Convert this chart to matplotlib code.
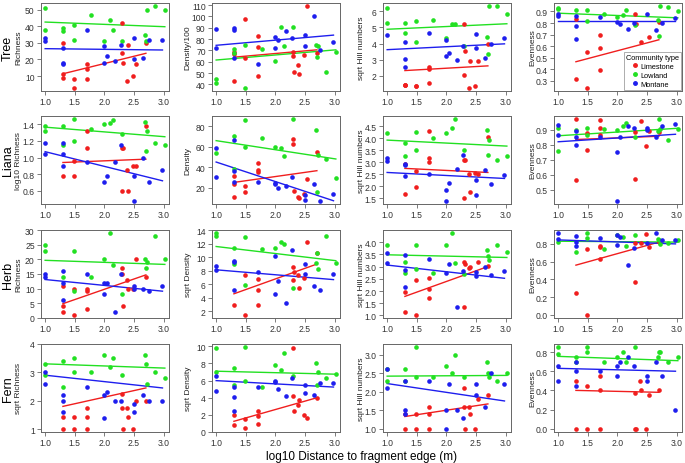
import matplotlib
matplotlib.use("Agg")
import matplotlib.pyplot as plt
import numpy as np
from matplotlib.lines import Line2D

nan = np.nan
plt.rcParams["font.family"] = ["Liberation Sans", "DejaVu Sans"]

# log10 distance to fragment edge for each site, by community type
x_limestone = [1.3, 1.3, 1.3, 1.48, 1.48, 1.7, 1.7, 1.7, 2.3, 2.3, 2.32, 2.38, 2.4, 2.48, 2.54, 2.7]
x_lowland = [1.0, 1.0, 1.3, 1.3, 1.48, 1.48, 1.78, 2.0, 2.1, 2.15, 2.3, 2.68, 2.7, 2.72, 2.85, 3.02]
x_montane = [1.0, 1.0, 1.3, 1.3, 1.3, 1.7, 2.0, 2.0, 2.04, 2.18, 2.28, 2.5, 2.5, 2.65, 2.76, 2.98]

taxa = ["Tree", "Liana", "Herb", "Fern"]
ylabels = [["Richness", "Density/100", "sqrt Hill numbers", "Evenness"],
           ["log10 Richness", "Density", "sqrt Hill numbers", "Evenness"],
           ["Richness", "sqrt Density", "sqrt Hill numbers", "Evenness"],
           ["sqrt Richness", "sqrt Density", "sqrt Hill numbers", "Evenness"]]
yticks = [[[10, 20, 30, 40, 50], [40, 50, 60, 70, 80, 90, 100, 110], [2, 3, 4, 5, 6], [0.3, 0.4, 0.5, 0.6, 0.7, 0.8, 0.9]],
          [[0.6, 0.8, 1.0, 1.2, 1.4], [20, 40, 60, 80], [1.5, 2.0, 2.5, 3.0, 3.5, 4.0, 4.5], [0.5, 0.6, 0.7, 0.8, 0.9]],
          [[0, 5, 10, 15, 20, 25, 30], [2, 4, 6, 8, 10, 12, 14], [1.0, 1.5, 2.0, 2.5, 3.0, 3.5, 4.0], [0.0, 0.2, 0.4, 0.6, 0.8]],
          [[1, 2, 3, 4], [0, 2, 4, 6, 8, 10], [1.0, 1.5, 2.0, 2.5, 3.0], [0.0, 0.2, 0.4, 0.6, 0.8]]]
xticks = [1.0, 1.5, 2.0, 2.5, 3.0]

# values per column: richness, density, hill numbers, evenness
tree_limestone = [[30, 11, 9, 8, 3, 17, 14, 8, 42, 24, 18, 7, 29, 10, 17, 30],
                  [69, 43, 67, 98, 63, 83, 73, 47, 69, 65, 51, 57, 49, 66, 109, 68],
                  [1.47, 1.45, 1.43, 1.37, 1.35, 2.55, 2.4, 1.55, 5.22, 2.08, 3.51, 1.27, 2.94, 1.35, 2.9, 3.96],
                  [0.835, 0.315, nan, 0.545, 0.24, 0.695, 0.585, 0.395, 0.88, nan, 0.79, nan, 0.635, nan, 0.675, 0.81]]
tree_lowland = [[51, 38, 39, 37, 41, 32, 47, 31, 44, 38, 31, 35, 31, 50, 52, 50],
                [45, 41, 71, 68, 75, 37, 71, 61, 91, 74, 91, 75, 64, 74, 51, 69],
                [6.2, 5.29, 5.29, 4.63, 5.37, 4.12, 5.47, 4.31, 5.22, 5.22, 3.84, 4.4, 3.35, 6.3, 6.3, 5.84],
                [0.93, 0.92, 0.91, nan, 0.91, 0.82, 0.88, 0.85, 0.87, 0.91, 0.78, 0.83, 0.69, 0.945, 0.94, 0.9]]
tree_montane = [[33, 31, 27, 18, 17, 38, 28, 18, 22, 19, 29, 33, 20, 21, 32, 32],
                [89, 72, 90, 88, 63, 58, 82, 72, 79, 87, 81, 84, 74, 100, 70, 77],
                [4.53, nan, 4.12, 3.04, 2.57, 4.67, 4.2, 3.24, 3.43, 3.0, 3.86, 4.61, 3.71, 3.1, 4.0, 4.31],
                [0.88, 0.865, 0.86, 0.77, 0.665, 0.85, 0.81, nan, 0.79, 0.75, 0.8, 0.875, nan, 0.74, 0.8, 0.84]]

liana_limestone = [[0.78, nan, nan, 0.96, 0.78, 1.32, 1.11, nan, 1.11, 0.6, 1.11, 0.85, 0.6, 0.9, 0.9, 1.38],
                   [31, 23, 11, 21, 16, 44, 37, 35, 68, 63, 17, 11, 10, 14, 28, 55],
                   [2.92, 1.67, nan, 2.63, 1.98, 4.29, 3.18, 3.01, 3.11, 1.5, 3.08, 2.53, 1.75, 2.56, 2.53, 4.05],
                   [0.97, 0.567, nan, 0.878, 0.767, 0.964, 0.909, 0.867, 0.887, 0.571, nan, nan, 0.96, 0.793, 0.893, 0.887]]
liana_lowland = [[1.38, 1.32, 1.38, 1.15, 1.46, 1.2, 1.34, 1.4, 1.42, 1.45, 1.28, 1.43, 1.08, 1.32, 1.18, 1.15],
                 [54, nan, 71, 38, 86, 60, 69, 60, 59, 51, 87, 76, 16, 52, 48, 29],
                 [4.24, nan, 3.83, 3.25, 4.28, 3.5, 4.0, 4.21, 4.45, 4.8, 3.5, 4.35, 3.32, 3.95, 3.08, 3.28],
                 [0.915, 0.76, 0.9, nan, 0.91, 0.867, 0.905, 0.9, 0.922, 0.944, 0.855, 0.893, 0.97, 0.905, 0.833, 0.905]]
liana_montane = [[1.18, 1.04, 1.17, 1.04, 0.9, 0.95, 0.7, nan, 0.78, 0.95, 1.15, 0.78, 0.48, 1.0, 0.7, 0.85],
                 [59, 30, 67, 36.5, 25, 25, 24.5, 23, 20, 21, 30, 12.5, 8, 23, 7, 14],
                 [3.19, 3.06, 2.95, 2.88, 2.44, 2.53, 1.85, 1.4, 2.16, 2.74, 3.32, 2.28, 1.64, 2.67, 2.09, 2.49],
                 [0.933, 0.864, 0.893, 0.855, 0.8, 0.849, 0.753, 0.427, 0.855, 0.927, 0.91, 0.915, 0.9, 0.855, 0.927, 0.938]]

herb_limestone = [[11, 4, 2, 10, 1, 10, 9, 3, 17, 15, 4, 13, 10, 10, 20, 14],
                  [2.9, nan, nan, 7.4, 1.5, 6.75, 5.2, 2.9, 8.5, 6.6, 7.8, 7.4, 5.5, 7.0, 12.2, 10.7],
                  [1.95, 1.16, nan, 2.45, 1.03, 2.55, 2.08, 1.7, 3.2, 1.36, 3.12, 2.92, 2.98, nan, 3.2, 3.01],
                  [0.25, nan, nan, 0.74, 0.0, 0.78, 0.76, 0.63, 0.81, 0.375, nan, nan, 0.81, 0.91, 0.77, 0.82]]
herb_lowland = [[25, 23, 14, nan, 23, 9, 14, 20, 29, 18, 8, 20, 17, 19, 28, 20],
                [13.56, 13.2, 11.4, 9.05, 13, 5.9, 11.2, 11.4, 12.2, 12.0, 5.4, 9.2, 10.7, 8.2, 13.1, 9.2],
                [3.86, nan, 3.19, 2.72, 3.9, 2.88, 2.72, 3.89, 4.36, 3.16, 2.69, 3.66, 3.43, 3.26, 3.86, 3.59],
                [0.826, nan, 0.714, nan, 0.92, 0.863, 0.74, 0.9, 0.874, 0.78, 0.9, 0.856, 0.845, 0.8, 0.815, 0.845]]
herb_montane = [[15, 14, 16, 12, 6, 15, 12, 8, 12, 2, 15, 11, 10, 10, 9, 11],
                [8.66, 8.17, 9.5, 9.25, 5.2, 7.8, 10.2, 4.6, 6.5, 3.2, 11.1, 9.0, 7.5, 5.8, 5.2, 7.5],
                [3.55, 3.15, 3.49, 2.85, 2.15, 3.3, 2.74, nan, 3.09, 1.36, 2.82, 2.76, 2.62, 2.99, 2.65, 2.81],
                [0.92, 0.856, 0.89, 0.826, 0.78, 0.863, 0.9, 0.79, 0.88, 0.566, 0.75, 0.815, nan, 0.92, 0.845, 0.845]]

fern_limestone = [[1.0, 1.41, nan, 1.41, 1.0, 1.73, 1.41, 1.0, 2.24, 1.73, 1.0, 1.73, 1.41, 1.0, 2.0, 2.0],
                  [0.8, 2.0, nan, 1.5, 0.5, 2.4, 1.9, 0.9, 9.8, 4.2, 2.4, 3.1, 3.7, 2.0, 1.6, 4.0],
                  [1.0, 1.4, nan, 1.4, 1.0, 1.6, 1.4, 1.0, 2.1, 1.6, 1.0, 1.6, 1.4, 1.0, 1.8, 1.9],
                  [0.0, 0.5, nan, 0.0, 0.45, 0.55, 0.4, 0.0, 0.0, 0.37, 0.0, 0.5, 0.4, 0.0, 0.35, 0.4]]
fern_lowland = [[3.3, 2.9, 3.4, 2.5, 3.5, 3.0, 3.0, 3.6, 3.2, 3.5, 2.9, 3.6, 3.3, 2.6, 3.0, 2.8],
                [9.8, 7.0, 7.5, 5.5, 9.9, 6.0, 5.2, 7.8, 7.2, 9.2, 6.5, 8.0, 5.5, 7.0, 6.3, 6.8],
                [2.6, 2.3, 2.3, 2.6, 3.2, 2.4, 2.4, 2.7, 2.5, 3.0, 2.4, 2.8, 2.5, 2.4, 2.3, 2.5],
                [0.78, 0.85, 0.75, 0.7, 0.85, 0.8, 0.7, 0.75, 0.8, 0.7, 0.85, 0.75, 0.8, 0.8, 0.7, 0.75]]
fern_montane = [[3.0, 2.6, 2.2, 2.0, 1.6, 2.5, 2.2, 1.4, 2.3, 2.0, 2.0, 1.9, 1.6, 2.2, 2.0, 2.0],
                [6.5, 4.8, 5.2, 4.1, 2.5, 5.2, 6.0, 5.8, 5.0, 4.2, 6.3, 5.5, 4.5, 4.3, 5.7, 5.7],
                [2.6, 2.1, 2.3, 1.5, 1.4, 2.3, 1.5, 1.0, 2.2, 1.5, 1.3, 2.2, 1.9, 1.6, 2.5, 2.2],
                [0.5, 0.65, 0.45, 0.7, 0.6, 0.6, 0.55, 0.65, 0.7, 0.75, 0.65, 0.55, 0.5, 0.7, 0.55, 0.2]]

# fitted lines: value at the lowest and highest distance of each community
tree_fit_limestone = [(11.4, 23.7), (64, 70.5), (2.33, 2.62), (0.465, 0.655)]
tree_fit_lowland = [(42.5, 39.7), (61.5, 70.5), (4.88, 5.22), (0.885, 0.845)]
tree_fit_montane = [(26.5, 25.7), (74.5, 83.5), (3.62, 3.98), (0.815, 0.815)]
liana_fit_limestone = [(0.94, 0.98), (25, 36.5), (2.75, 2.58), (0.835, 0.857)]
liana_fit_lowland = [(1.365, 1.25), (66, 48), (3.93, 3.68), (0.86, 0.91)]
liana_fit_montane = [(1.07, 0.72), (45, 7), (2.58, 2.33), (0.82, 0.87)]
herb_fit_limestone = [(4.8, 14.7), (4.6, 9.0), (1.78, 3.0), (0.56, 0.82)]
herb_fit_lowland = [(19.7, 18.3), (11.6, 9.5), (3.48, 3.37), (0.83, 0.82)]
herb_fit_montane = [(13.1, 9.1), (8.15, 6.7), (3.06, 2.52), (0.845, 0.80)]
fern_fit_limestone = [(1.8, 2.45), (1.25, 4.0), (1.33, 1.67), (0.40, 0.38)]
fern_fit_lowland = [(3.3, 3.15), (7.1, 6.75), (2.42, 2.44), (0.755, 0.71)]
fern_fit_montane = [(2.9, 2.45), (6.0, 5.25), (2.22, 1.75), (0.63, 0.60)]

communities = ["Limestone", "Lowland", "Montane"]
colors = {"Limestone": "#F01E1E", "Lowland": "#22E022", "Montane": "#1E1EEE"}
xs = {"Limestone": x_limestone, "Lowland": x_lowland, "Montane": x_montane}

rows = [
    {"Limestone": tree_limestone, "Lowland": tree_lowland, "Montane": tree_montane},
    {"Limestone": liana_limestone, "Lowland": liana_lowland, "Montane": liana_montane},
    {"Limestone": herb_limestone, "Lowland": herb_lowland, "Montane": herb_montane},
    {"Limestone": fern_limestone, "Lowland": fern_lowland, "Montane": fern_montane},
]
fits = [
    {"Limestone": tree_fit_limestone, "Lowland": tree_fit_lowland, "Montane": tree_fit_montane},
    {"Limestone": liana_fit_limestone, "Lowland": liana_fit_lowland, "Montane": liana_fit_montane},
    {"Limestone": herb_fit_limestone, "Lowland": herb_fit_lowland, "Montane": herb_fit_montane},
    {"Limestone": fern_fit_limestone, "Lowland": fern_fit_lowland, "Montane": fern_fit_montane},
]

W, H = 685, 464
fig = plt.figure(figsize=(W / 100, H / 100), dpi=100)

lefts = [41, 212, 383, 554]
tops = [4, 117, 231, 345]
aw, ah = 128, 88
label_x = [-0.148, -0.158, -0.14, -0.14]
frame = "#666666"

for r in range(4):
    for c in range(4):
        ax = fig.add_axes([lefts[c] / W, 1 - (tops[r] + ah) / H, aw / W, ah / H])
        for comm in communities:
            x = np.array(xs[comm])
            y = np.array(rows[r][comm][c], dtype=float)
            ok = ~np.isnan(y)
            ax.scatter(x[ok], y[ok], s=11, color=colors[comm], linewidths=0, zorder=3)
            lo, hi = fits[r][comm][c]
            ax.plot([x[ok].min(), x[ok].max()], [lo, hi], color=colors[comm], lw=1.0, zorder=2)
        ax.set_xlim(0.93, 3.09)
        ax.margins(y=0.04)
        ax.set_xticks(xticks)
        ax.set_yticks(yticks[r][c])
        ax.tick_params(labelsize=6.2, length=3, width=0.6, color=frame, labelcolor="#333333", pad=1.5)
        for sp in ax.spines.values():
            sp.set_color(frame)
            sp.set_linewidth(0.7)
        ax.set_ylabel(ylabels[r][c], fontsize=6, color="#222222")
        ax.yaxis.set_label_coords(label_x[c], 0.5)
        if c == 0:
            fig.text(8 / W, 1 - (tops[r] + ah / 2) / H, taxa[r], rotation=90,
                     fontsize=9, ha="center", va="center")
        if r == 0 and c == 3:
            handles = [Line2D([], [], marker="o", ls="", color=colors[k], markersize=2.5) for k in communities]
            leg = ax.legend(handles, communities, title="Community type", loc="lower right",
                            fontsize=5.3, title_fontsize=5.3, frameon=True, fancybox=False,
                            edgecolor="#888888", borderaxespad=0.1, handlelength=1.0,
                            handletextpad=0.3, labelspacing=0.25, borderpad=0.3)
            leg.get_frame().set_linewidth(0.6)

fig.text(362 / W, 1 - 457 / H, "log10 Distance to fragment edge (m)", fontsize=8.5,
         ha="center", va="center")

fig.savefig("out.png", dpi=100)
